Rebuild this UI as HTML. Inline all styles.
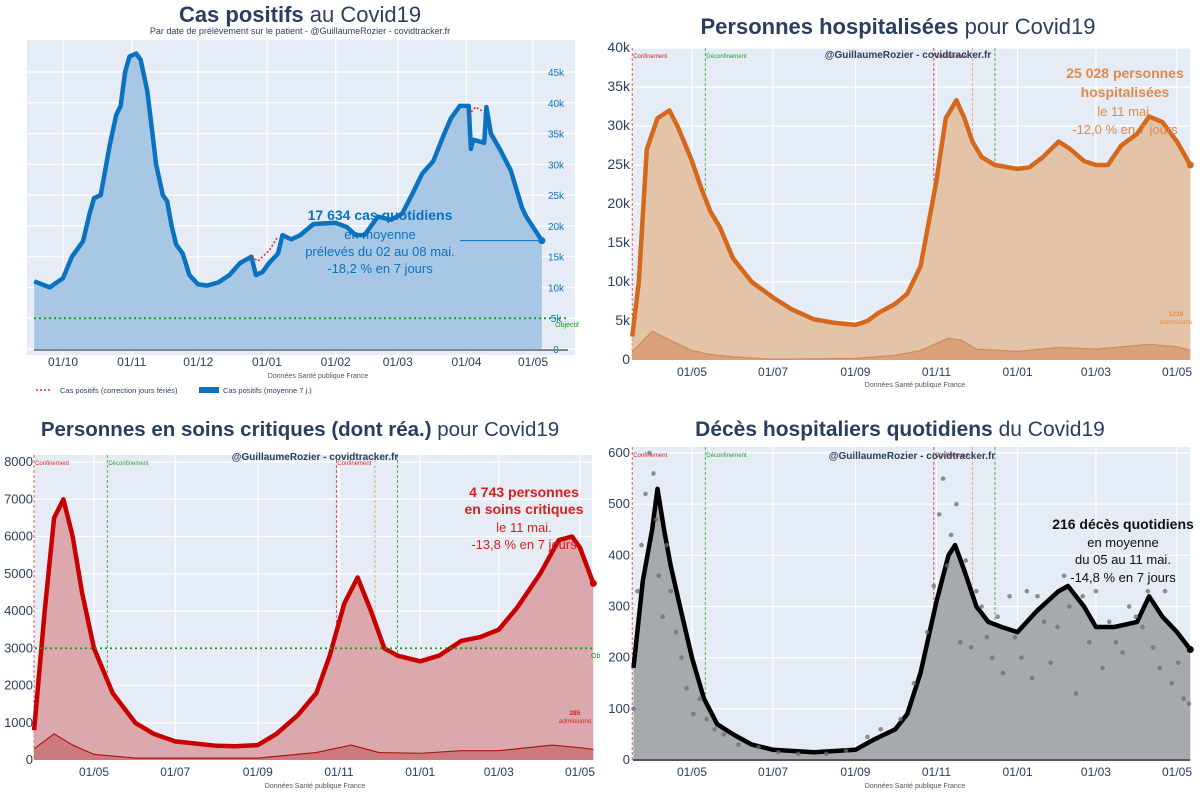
<!DOCTYPE html>
<html><head><meta charset="utf-8">
<style>
body{margin:0;background:#fff;width:1200px;height:800px;overflow:hidden;font-family:"Liberation Sans",sans-serif}
svg{position:absolute;left:0;top:0}
</style></head><body>
<svg id="c" width="1200" height="800" xmlns="http://www.w3.org/2000/svg"></svg>
<script>
// ---------- Panel 1: cas positifs ----------
const casDates=["2020-09-18","2020-09-25","2020-10-01","2020-10-05","2020-10-10","2020-10-13","2020-10-15","2020-10-18","2020-10-22","2020-10-25","2020-10-27","2020-10-29","2020-10-31","2020-11-03","2020-11-05","2020-11-08","2020-11-10","2020-11-12","2020-11-15","2020-11-17","2020-11-19","2020-11-21","2020-11-24","2020-11-27","2020-12-01","2020-12-05","2020-12-10","2020-12-15","2020-12-20","2020-12-25","2020-12-27","2020-12-30","2021-01-02","2021-01-06","2021-01-08","2021-01-12","2021-01-16","2021-01-22","2021-02-01","2021-02-06","2021-02-10","2021-02-14","2021-02-20","2021-02-26","2021-03-03","2021-03-08","2021-03-12","2021-03-17","2021-03-22","2021-03-25","2021-03-29","2021-04-02","2021-04-03","2021-04-04","2021-04-09","2021-04-10","2021-04-12","2021-04-16","2021-04-21","2021-04-26","2021-04-28","2021-05-05"];
const casValues=[11,10,11.5,15,17.5,22,24.5,25,33,38,39.5,45,47.5,48,47,42,36,30,25,24,20,17,15.5,12,10.5,10.3,10.8,12,14,15,12,12.5,14,15.5,18.5,17.8,18.5,20.3,20.5,19.8,18.5,18.5,21.5,21,22,25.5,28.5,30.5,35,37.5,39.5,39.5,32.5,34,33.5,39.3,35,32.5,29,23,21.5,17.6];
const corrDates1=["2020-12-25","2020-12-28","2021-01-02","2021-01-06"];
const corrValues1=[15,14.3,16,18.3];
const corrDates2=["2021-04-02","2021-04-05","2021-04-09"];
const corrValues2=[38,39.3,38.5];
const casTicksY=[0,5,10,15,20,25,30,35,40,45];
const casTicksX=["2020-10-01","2020-11-01","2020-12-01","2021-01-01","2021-02-01","2021-03-01","2021-04-01","2021-05-01"];
// ---------- Panel 2: hospitalisés ----------
const hospDates=["2020-03-17","2020-03-22","2020-03-28","2020-04-05","2020-04-14","2020-04-20","2020-04-25","2020-05-01","2020-05-08","2020-05-15","2020-05-22","2020-06-01","2020-06-15","2020-07-01","2020-07-15","2020-08-01","2020-08-15","2020-09-01","2020-09-10","2020-09-18","2020-10-01","2020-10-10","2020-10-20","2020-11-01","2020-11-08","2020-11-16","2020-11-22","2020-11-28","2020-12-05","2020-12-15","2021-01-01","2021-01-10","2021-01-20","2021-02-01","2021-02-10","2021-02-20","2021-03-01","2021-03-10","2021-03-20","2021-04-01","2021-04-10","2021-04-20","2021-05-01","2021-05-11"];
const hospValues=[3,10,27,31,32,30,28,25.5,22,19,17,13,10,8,6.5,5.2,4.8,4.5,5,6,7.2,8.5,12,23,31,33.3,31,28,26,25,24.5,24.7,26,28,27,25.5,25,25,27.5,29,31.2,30.5,28,25];
const hospAdmDates=["2020-03-17","2020-04-01","2020-04-15","2020-05-01","2020-05-15","2020-06-01","2020-07-01","2020-09-01","2020-10-01","2020-10-20","2020-11-10","2020-11-20","2020-12-01","2021-01-01","2021-02-01","2021-03-01","2021-04-10","2021-05-01","2021-05-11"];
const hospAdmValues=[1,3.7,2.5,1.2,0.7,0.4,0.1,0.2,0.6,1.2,2.8,2.5,1.4,1.1,1.6,1.4,2,1.7,1.24];
const hospTicksY=[0,5,10,15,20,25,30,35,40];
// ---------- Panel 3: soins critiques ----------
const reaDates=["2020-03-17","2020-03-25","2020-04-01","2020-04-08","2020-04-15","2020-04-22","2020-05-01","2020-05-15","2020-06-01","2020-06-15","2020-07-01","2020-08-01","2020-08-15","2020-09-01","2020-09-15","2020-10-01","2020-10-15","2020-10-25","2020-11-05","2020-11-15","2020-11-25","2020-12-05","2020-12-15","2021-01-01","2021-01-15","2021-02-01","2021-02-15","2021-03-01","2021-03-15","2021-04-01","2021-04-15","2021-04-25","2021-05-01","2021-05-11"];
const reaValues=[800,4000,6500,7000,6000,4500,3000,1800,1000,700,500,380,370,400,700,1200,1800,2800,4200,4900,4000,3000,2800,2650,2800,3200,3300,3500,4100,5000,5900,6000,5700,4743];
const reaAdmDates=["2020-03-17","2020-04-01","2020-04-15","2020-05-01","2020-06-01","2020-09-01","2020-10-15","2020-11-10","2020-12-01","2021-01-01","2021-02-01","2021-03-01","2021-04-10","2021-05-01","2021-05-11"];
const reaAdmValues=[300,700,400,150,50,50,200,400,200,180,250,250,400,330,285];
const reaTicksY=[0,1000,2000,3000,4000,5000,6000,7000,8000];
// ---------- Panel 4: décès ----------
const dcDates=["2020-03-18","2020-03-25","2020-04-01","2020-04-05","2020-04-10","2020-04-15","2020-04-22","2020-05-01","2020-05-10","2020-05-20","2020-06-01","2020-06-15","2020-07-01","2020-08-01","2020-09-01","2020-09-15","2020-10-01","2020-10-10","2020-10-20","2020-11-01","2020-11-10","2020-11-15","2020-11-22","2020-12-01","2020-12-10","2020-12-20","2021-01-01","2021-01-15","2021-02-01","2021-02-08","2021-02-20","2021-03-01","2021-03-15","2021-04-01","2021-04-10","2021-04-20","2021-05-01","2021-05-11"];
const dcValues=[180,350,450,530,450,380,300,200,120,70,50,30,20,15,20,40,60,90,170,310,400,420,370,300,270,260,250,290,330,340,300,260,260,270,320,280,250,216];
const dcDotDates=["2020-03-18","2020-03-21","2020-03-24","2020-03-27","2020-03-30","2020-04-02","2020-04-04","2020-04-06","2020-04-09","2020-04-12","2020-04-15","2020-04-19","2020-04-23","2020-04-27","2020-05-02","2020-05-07","2020-05-12","2020-05-18","2020-05-25","2020-06-05","2020-06-20","2020-07-05","2020-07-20","2020-08-10","2020-08-25","2020-09-10","2020-09-20","2020-10-05","2020-10-15","2020-10-25","2020-10-30","2020-11-03","2020-11-06","2020-11-09","2020-11-12","2020-11-16","2020-11-19","2020-11-23","2020-11-27","2020-12-01","2020-12-05","2020-12-09","2020-12-13","2020-12-17","2020-12-21","2020-12-26","2020-12-30","2021-01-04","2021-01-08","2021-01-12","2021-01-16","2021-01-21","2021-01-26","2021-01-31","2021-02-05","2021-02-09","2021-02-14","2021-02-19","2021-02-24","2021-03-01","2021-03-06","2021-03-11","2021-03-16","2021-03-21","2021-03-26","2021-03-31","2021-04-05","2021-04-09","2021-04-13","2021-04-18","2021-04-22","2021-04-27","2021-05-02","2021-05-06","2021-05-10"];
const dcDotValues=[100,330,420,520,600,560,470,360,280,420,330,250,200,140,90,120,80,60,50,30,25,15,12,12,18,45,60,80,150,250,340,480,550,380,440,500,230,390,220,330,300,240,200,280,170,320,240,200,330,160,320,270,190,260,360,300,130,320,230,330,180,270,230,210,300,280,260,330,220,180,330,150,190,120,110];
const dcTicksY=[0,100,200,300,400,500,600];
const monthTicks=["2020-05-01","2020-07-01","2020-09-01","2020-11-01","2021-01-01","2021-03-01","2021-05-01"];
const eventDates=["2020-03-17","2020-05-11","2020-10-30","2020-11-28","2020-12-15"];
const eventColors=["#d62728","#2ca02c","#d62728","#e39b6a","#2ca02c"];
const eventLabels=["Confinement","Déconfinement","Confinement","",""];

const NS="http://www.w3.org/2000/svg";
const svg=document.getElementById("c");
const day=s=>Date.UTC(+s.slice(0,4),+s.slice(5,7)-1,+s.slice(8,10))/864e5;
function el(tag,attrs,parent,text){const e=document.createElementNS(NS,tag);for(const k in attrs)e.setAttribute(k,attrs[k]);if(text!==undefined)e.textContent=text;(parent||svg).appendChild(e);return e;}
function mkX(refDate,refPx,pxPerDay){const r=day(refDate);return s=>refPx+(day(s)-r)*pxPerDay;}
function mkY(v0,p0,v1,p1){return v=>p0+(v-v0)*(p1-p0)/(v1-v0);}
function pathD(dates,vals,X,Y){return dates.map((d,i)=>(i?"L":"M")+X(d).toFixed(1)+","+Y(vals[i]).toFixed(1)).join("");}

function panel(o){
  const g=el("g",{},svg);
  
  
  const bg=el("rect",{x:o.x0,y:o.y0,width:o.x1-o.x0,height:o.y1-o.y0,fill:"#e5ecf6"},g);
  
  
  o.ticksY.forEach(v=>{
    const y=o.Y(v);
    const l=el("line",{x1:o.x0,x2:o.x1,y1:y,y2:y,stroke:"#fff","stroke-width":1.2},g);
    
    
    const t=el("text",{x:o.yLabelX,y:y+4,"font-size":o.yFont,fill:o.yColor,"text-anchor":o.yAnchor},g,o.fmtY(v));
    
    
  });
  o.ticksX.forEach(d=>{
    const x=o.X(d);
    const l=el("line",{x1:x,x2:x,y1:o.y0,y2:o.y1,stroke:"#fff","stroke-width":1.2},g);
    
    
    const t=el("text",{x:x,y:o.xLabelY||(o.y1+17),"font-size":12,fill:"#2a3f5f","text-anchor":"middle"},g,d.slice(8,10)+"/"+d.slice(5,7));
    
    
  });
  return g;
}
function area(g,dates,vals,X,Y,base,fill,stroke,sw,name){
  const d=pathD(dates,vals,X,Y);
  const a=el("path",{d:d+"L"+X(dates[dates.length-1]).toFixed(1)+","+base+"L"+X(dates[0]).toFixed(1)+","+base+"Z",fill:fill},g);
  
  
  const l=el("path",{d:d,fill:"none",stroke:stroke,"stroke-width":sw,"stroke-linejoin":"round"},g);
  
  
}
function txt(g,x,y,s,size,color,weight,name,anchor){
  const t=el("text",{x:x,y:y,"font-size":size,fill:color,"font-weight":weight||"normal","text-anchor":anchor||"middle"},g,s);
  
  
  return t;
}
function title(g,x,y,bold,rest,name,size){
  const t=el("text",{x:x,y:y,"font-size":size||22,fill:"#2a3f5f","text-anchor":"middle"},g);
  
  
  el("tspan",{"font-weight":"bold"},t,bold);
  el("tspan",{},t,rest);
}
function events(g,X,y0,y1){
  eventDates.forEach((d,i)=>{
    const x=X(d);
    const l=el("line",{x1:x,x2:x,y1:y0,y2:y1,stroke:eventColors[i],"stroke-width":0.8,"stroke-dasharray":"3,2"},g);
    
    
    if(eventLabels[i])txt(g,x+1,y0+10,eventLabels[i],6,eventColors[i],"normal","event-label","start");
  });
}

// ---- Panel 1 ----
{
 const X=mkX("2020-10-01",63,470/212), Y=mkY(0,349,45,72);
 const g=panel({name:"cas-positifs-chart",x0:27,x1:575,y0:40,y1:355,xLabelY:366,X,Y,ticksY:casTicksY,ticksX:casTicksX,yLabelX:556,yFont:10,yColor:"#0b72c0",yAnchor:"middle",fmtY:v=>v?v+"k":"0"});
 title(g,300,22,"Cas positifs"," au Covid19","cas-title");
 txt(g,300,34,"Par date de prélèvement sur le patient - @GuillaumeRozier - covidtracker.fr",9,"#2a3f5f","normal","cas-subtitle");
 area(g,casDates,casValues,X,Y,349,"#a7c7e5","#0b72c0",4.5,"cas-series");
 el("line",{x1:34,x2:568,y1:350,y2:350,stroke:"#7f8790","stroke-width":2},g);
 el("path",{d:pathD(corrDates1,corrValues1,X,Y),fill:"none",stroke:"#e3262d","stroke-width":1.5,"stroke-dasharray":"2,2"},g);
 el("path",{d:pathD(corrDates2,corrValues2,X,Y),fill:"none",stroke:"#e3262d","stroke-width":1.5,"stroke-dasharray":"2,2"},g);
 el("line",{x1:34,x2:568,y1:Y(5),y2:Y(5),stroke:"#1a9a1a","stroke-width":1.8,"stroke-dasharray":"2,3"},g);
 txt(g,567,327,"Objectif",7,"#1a9a1a","normal","objectif-label");
 const last=casDates.length-1;
 el("circle",{cx:X(casDates[last]),cy:Y(casValues[last]),r:3.5,fill:"#0b72c0"},g);
 el("line",{x1:460,x2:X(casDates[last]),y1:Y(casValues[last]),y2:Y(casValues[last]),stroke:"#0b72c0","stroke-width":1},g);
 txt(g,380,220,"17 634 cas quotidiens",14,"#0b72c0","bold","cas-annotation-title");
 txt(g,380,239,"en moyenne",13,"#0b72c0","normal","cas-annotation");
 txt(g,380,256,"prélevés du 02 au 08 mai.",13,"#0b72c0","normal","cas-annotation");
 txt(g,380,273,"-18,2 % en 7 jours",13,"#0b72c0","normal","cas-annotation");
 txt(g,318,378,"Données Santé publique France",7,"#555","normal","source-label");
 const lg=el("g",{},g);
 el("line",{x1:36,x2:52,y1:390,y2:390,stroke:"#e3262d","stroke-width":1.5,"stroke-dasharray":"2,2"},lg);
 txt(lg,60,393,"Cas positifs (correction jours fériés)",7.5,"#2a3f5f","normal","legend-entry","start");
 el("rect",{x:199,y:387,width:20,height:6,fill:"#0b72c0"},lg);
 txt(lg,223,393,"Cas positifs (moyenne 7 j.)",7.5,"#2a3f5f","normal","legend-entry","start");
}
// ---- Panel 2 ----
{
 const X=mkX("2020-05-01",692,485/365), Y=mkY(0,360,40,48);
 const g=panel({name:"hospitalisations-chart",x0:633,x1:1190,y0:48,y1:360,xLabelY:376,X,Y,ticksY:hospTicksY,ticksX:monthTicks,yLabelX:630,yFont:14,yColor:"#2a3f5f",yAnchor:"end",fmtY:v=>v?v+"k":"0"});
 title(g,898,34,"Personnes hospitalisées"," pour Covid19","hosp-title");
 events(g,X,48,360);
 area(g,hospDates,hospValues,X,Y,360,"#e4c4a8","#d4681c",4.5,"hosp-series");
 area(g,hospAdmDates,hospAdmValues,X,Y,360,"#d9a27a","#d08a5a",1.2,"hosp-admissions");
 txt(g,908,58,"@GuillaumeRozier - covidtracker.fr",10,"#2a3f5f","bold","watermark");
 const last=hospDates.length-1;
 el("circle",{cx:X(hospDates[last]),cy:Y(hospValues[last]),r:3.5,fill:"#d4681c"},g);
 txt(g,1125,78,"25 028 personnes",14,"#e08a4a","bold","hosp-annotation-title");
 txt(g,1125,97,"hospitalisées",14,"#e08a4a","bold","hosp-annotation-title");
 txt(g,1125,116,"le 11 mai.",13,"#e08a4a","normal","hosp-annotation");
 txt(g,1125,134,"-12,0 % en 7 jours",13,"#e08a4a","normal","hosp-annotation");
 txt(g,1176,316,"1239",6.5,"#e08a4a","bold","admissions-value");
 txt(g,1176,324,"admissions",6.5,"#e08a4a","normal","admissions-label");
 txt(g,915,387,"Données Santé publique France",7,"#555","normal","source-label");
}
// ---- Panel 3 ----
{
 const X=mkX("2020-05-01",94,486/365), Y=mkY(0,760,8000,462);
 const g=panel({name:"soins-critiques-chart",x0:35,x1:592,y0:455,y1:760,xLabelY:776,X,Y,ticksY:reaTicksY,ticksX:monthTicks,yLabelX:33,yFont:13,yColor:"#2a3f5f",yAnchor:"end",fmtY:v=>""+v});
 title(g,300,436,"Personnes en soins critiques (dont réa.)"," pour Covid19","rea-title",20.5);
 events(g,X,455,760);
 area(g,reaDates,reaValues,X,Y,760,"#dba8ad","#c80000",4.5,"rea-series");
 area(g,reaAdmDates,reaAdmValues,X,Y,760,"#cc7a80","#b01818",1.2,"rea-admissions");
 el("line",{x1:35,x2:592,y1:Y(3000),y2:Y(3000),stroke:"#1a9a1a","stroke-width":1.8,"stroke-dasharray":"2,3"},g);
 txt(g,591,658,"Ob",7,"#1a9a1a","normal","objectif-label","start");
 txt(g,315,460,"@GuillaumeRozier - covidtracker.fr",10,"#2a3f5f","bold","watermark");
 const last=reaDates.length-1;
 el("circle",{cx:X(reaDates[last]),cy:Y(reaValues[last]),r:3.5,fill:"#c80000"},g);
 txt(g,524,497,"4 743 personnes",14,"#d61f1f","bold","rea-annotation-title");
 txt(g,524,514,"en soins critiques",14,"#d61f1f","bold","rea-annotation-title");
 txt(g,524,532,"le 11 mai.",13,"#d61f1f","normal","rea-annotation");
 txt(g,524,549,"-13,8 % en 7 jours",13,"#d61f1f","normal","rea-annotation");
 txt(g,575,715,"285",6.5,"#d61f1f","bold","admissions-value");
 txt(g,575,723,"admissions",6.5,"#d61f1f","normal","admissions-label");
 txt(g,315,788,"Données Santé publique France",7,"#555","normal","source-label");
}
// ---- Panel 4 ----
{
 const X=mkX("2020-05-01",692,485/365), Y=mkY(0,760,600,453);
 const g=panel({name:"deces-chart",x0:633,x1:1190,y0:447,y1:760,xLabelY:776,X,Y,ticksY:dcTicksY,ticksX:monthTicks,yLabelX:630,yFont:13,yColor:"#2a3f5f",yAnchor:"end",fmtY:v=>""+v});
 title(g,900,436,"Décès hospitaliers quotidiens"," du Covid19","dc-title",21);
 events(g,X,447,760);
 area(g,dcDates,dcValues,X,Y,760,"#a6a9ae","#000",4.5,"dc-series");
 dcDotDates.forEach((d,i)=>{
   const c=el("circle",{cx:X(d),cy:Y(dcDotValues[i]),r:2.3,fill:"#6b6e73","fill-opacity":0.75},g);
   
   
 });
 el("line",{x1:633,x2:1190,y1:760,y2:760,stroke:"#555","stroke-width":2},g);
 txt(g,912,459,"@GuillaumeRozier - covidtracker.fr",10,"#2a3f5f","bold","watermark");
 const last=dcDates.length-1;
 el("circle",{cx:X(dcDates[last]),cy:Y(dcValues[last]),r:3.5,fill:"#000"},g);
 txt(g,1123,529,"216 décès quotidiens",14,"#111","bold","dc-annotation-title");
 txt(g,1123,547,"en moyenne",13,"#111","normal","dc-annotation");
 txt(g,1123,564,"du 05 au 11 mai.",13,"#111","normal","dc-annotation");
 txt(g,1123,582,"-14,8 % en 7 jours",13,"#111","normal","dc-annotation");
 txt(g,915,788,"Données Santé publique France",7,"#555","normal","source-label");
}
</script>
</body></html>
